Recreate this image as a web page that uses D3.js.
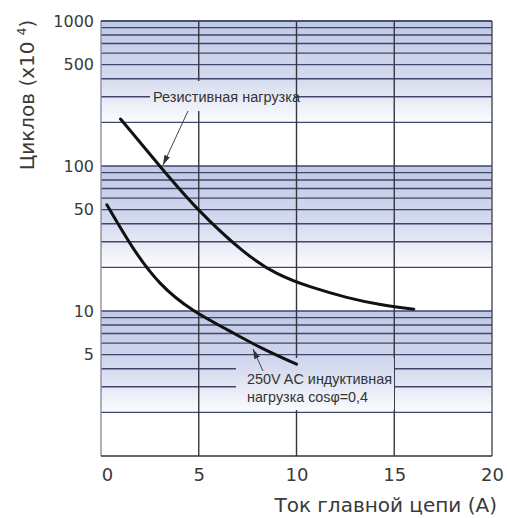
<!DOCTYPE html>
<html lang="ru">
<head>
<meta charset="UTF-8">
<title>Циклов</title>
<script src="https://d3js.org/d3.v7.min.js"></script>
<style>
    body { margin: 0; background: #fff; }
    text { font-family: "DejaVu Sans", sans-serif; fill: #3a3a3a; }
    .note { font-family: "Liberation Sans", Arial, sans-serif; fill: #333; }
</style>
</head>
<body>
<div id="chart"></div>
<script>
    // data
    var xTicks = [0, 5, 10, 15, 20];
    var yTicks = [5, 10, 50, 100, 500, 1000];

    var resistiveX = [1, 3, 4.9, 7.3, 9, 10.7, 12.6, 14.3, 16];
    var resistiveY = [211, 100, 50, 25, 17.7, 14.6, 12.3, 11.0, 10.3];

    var inductiveX = [0.3, 1.6, 3, 4.7, 6.5, 8.1, 10];
    var inductiveY = [54, 27, 15, 9.9, 7.4, 5.6, 4.3];

    var w = 507, h = 518;
    var pLeft = 101, pRight = 492, pTop = 21, pBottom = 456;

    var svg = d3.select("#chart").append("svg")
        .attr("width", w)
        .attr("height", h);

    var x = d3.scaleLinear().domain([0, 20]).range([pLeft, pRight]);
    var y = d3.scaleLog().domain([1, 1000]).range([pBottom, pTop]);

    var defs = svg.append("defs");

    // one gradient per decade, blue on top fading to white
    var decades = [0, 1, 2];
    decades.forEach(function (k) {
        var g = defs.append("linearGradient")
            .attr("id", "band" + k)
            .attr("gradientUnits", "userSpaceOnUse")
            .attr("x1", 0).attr("x2", 0)
            .attr("y1", y(Math.pow(10, k + 1)))
            .attr("y2", y(Math.pow(10, k)));
        g.append("stop").attr("offset", 0).attr("stop-color", "#c0c9e5");
        g.append("stop").attr("offset", 0.38).attr("stop-color", "#d3d9ee");
        g.append("stop").attr("offset", 0.72).attr("stop-color", "#ffffff");
        g.append("stop").attr("offset", 1).attr("stop-color", "#ffffff");
    });

    defs.append("marker")
        .attr("id", "arrow")
        .attr("markerUnits", "userSpaceOnUse")
        .attr("viewBox", "0 0 10 6")
        .attr("refX", 10).attr("refY", 3)
        .attr("markerWidth", 10).attr("markerHeight", 6)
        .attr("orient", "auto")
        .append("path")
        .attr("d", "M0,0 L10,3 L0,6 z")
        .attr("fill", "#333");

    svg.selectAll("rect.band")
        .data(decades)
        .enter()
        .append("rect")
        .attr("class", "band")
        .attr("x", pLeft)
        .attr("width", pRight - pLeft)
        .attr("y", function (k) { return y(Math.pow(10, k + 1)); })
        .attr("height", function (k) { return y(Math.pow(10, k)) - y(Math.pow(10, k + 1)); })
        .attr("fill", function (k) { return "url(#band" + k + ")"; });

    // horizontal log grid
    svg.selectAll("line.hgrid")
        .data(y.ticks().filter(function (v) { return v > 1; }))
        .enter()
        .append("line")
        .attr("class", "hgrid")
        .attr("x1", pLeft).attr("x2", pRight)
        .attr("y1", function (d) { return y(d); })
        .attr("y2", function (d) { return y(d); })
        .attr("stroke", "#3e466c")
        .attr("stroke-width", 1.4);

    svg.selectAll("line.vgrid")
        .data([5, 10, 15])
        .enter()
        .append("line")
        .attr("class", "vgrid")
        .attr("x1", function (d) { return x(d); })
        .attr("x2", function (d) { return x(d); })
        .attr("y1", pTop).attr("y2", pBottom)
        .attr("stroke", "#363640")
        .attr("stroke-width", 1.4);

    // boxes behind the labels
    svg.append("rect")
        .attr("x", 150).attr("y", 81)
        .attr("width", 144).attr("height", 30)
        .attr("fill", "url(#band2)");
    svg.append("rect")
        .attr("x", 236).attr("y", 358)
        .attr("width", 158).attr("height", 52)
        .attr("fill", "url(#band0)");

    // frame
    svg.append("line").attr("x1", pLeft).attr("x2", pLeft).attr("y1", pTop).attr("y2", pBottom)
        .attr("stroke", "#8a8f9e").attr("stroke-width", 1.4);
    svg.append("line").attr("x1", pRight).attr("x2", pRight).attr("y1", pTop).attr("y2", pBottom)
        .attr("stroke", "#4a4a55").attr("stroke-width", 1.4);
    svg.append("line").attr("x1", pLeft).attr("x2", pRight).attr("y1", pBottom).attr("y2", pBottom)
        .attr("stroke", "#333").attr("stroke-width", 1.5);
    svg.append("line").attr("x1", pLeft).attr("x2", pRight).attr("y1", pTop).attr("y2", pTop)
        .attr("stroke", "#3e466c").attr("stroke-width", 1.4);

    var line = d3.line()
        .x(function (d) { return x(d[0]); })
        .y(function (d) { return y(d[1]); })
        .curve(d3.curveBasis);

    var curves = [d3.zip(resistiveX, resistiveY), d3.zip(inductiveX, inductiveY)];

    svg.selectAll("path.curve")
        .data(curves)
        .enter()
        .append("path")
        .attr("class", "curve")
        .attr("d", line)
        .attr("fill", "none")
        .attr("stroke", "#111")
        .attr("stroke-width", 3)
        .attr("stroke-linecap", "round");

    // axes
    var yAxis = svg.append("g")
        .attr("transform", "translate(" + pLeft + ",0)")
        .call(d3.axisLeft(y).tickValues(yTicks).tickFormat(d3.format("d")).tickSize(0).tickPadding(7));
    yAxis.select(".domain").remove();
    yAxis.selectAll("text")
        .style("font-family", "DejaVu Sans")
        .style("font-size", "16px")
        .attr("fill", "#3a3a3a");

    var xAxis = svg.append("g")
        .attr("transform", "translate(0," + pBottom + ")")
        .call(d3.axisBottom(x).tickValues(xTicks).tickSize(0).tickPadding(12));
    xAxis.select(".domain").remove();
    xAxis.selectAll("text")
        .style("font-family", "DejaVu Sans")
        .style("font-size", "18px")
        .attr("fill", "#3a3a3a")
        .attr("dx", function (d) { return d === 0 ? 6 : 0; });

    // titles
    svg.append("text")
        .attr("x", 497).attr("y", 512)
        .attr("text-anchor", "end")
        .style("font-size", "20px")
        .text("Ток главной цепи (A)");

    var yt = svg.append("text")
        .attr("transform", "translate(34,95) rotate(-90)")
        .attr("text-anchor", "middle")
        .style("font-size", "20px");
    yt.append("tspan").text("Циклов (x10 ");
    yt.append("tspan").attr("dy", -8).style("font-size", "12px").text("4");
    yt.append("tspan").attr("dy", 8).text(")");

    // annotations
    svg.append("line")
        .attr("x1", 188).attr("y1", 111)
        .attr("x2", 163).attr("y2", 165)
        .attr("stroke", "#444").attr("stroke-width", 1)
        .attr("marker-end", "url(#arrow)");
    svg.append("line")
        .attr("x1", 263).attr("y1", 371)
        .attr("x2", 253).attr("y2", 349)
        .attr("stroke", "#444").attr("stroke-width", 1)
        .attr("marker-end", "url(#arrow)");

    svg.append("text")
        .attr("class", "note")
        .attr("x", 153).attr("y", 102)
        .attr("textLength", 147)
        .attr("lengthAdjust", "spacingAndGlyphs")
        .style("font-size", "14px")
        .text("Резистивная нагрузка");

    svg.append("text")
        .attr("class", "note")
        .attr("x", 247).attr("y", 384)
        .attr("textLength", 145)
        .attr("lengthAdjust", "spacingAndGlyphs")
        .style("font-size", "15px")
        .text("250V AC индуктивная");
    svg.append("text")
        .attr("class", "note")
        .attr("x", 247).attr("y", 402)
        .attr("textLength", 121)
        .attr("lengthAdjust", "spacingAndGlyphs")
        .style("font-size", "15px")
        .text("нагрузка cosφ=0,4");
</script>
</body>
</html>
